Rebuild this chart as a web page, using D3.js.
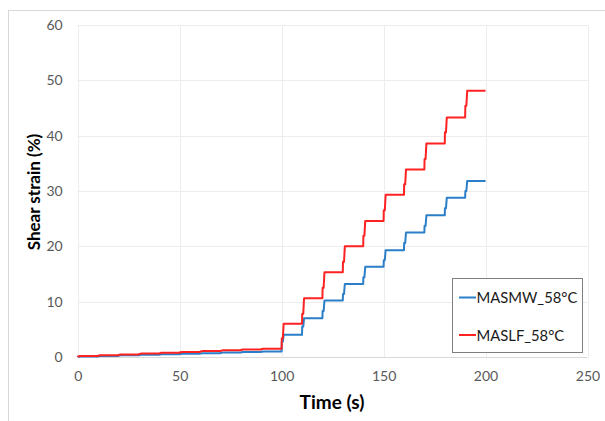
<!DOCTYPE html>
<html><head><meta charset="utf-8">
<script src="https://cdn.jsdelivr.net/npm/d3@7"></script>
<style>body{margin:0;background:#fff;}svg{display:block;font-family:Lato,"Open Sans",sans-serif;}</style>
</head><body>
<script>
// cycle start times (s)
const cycleStart = [0,10,20,30,40,50,60,70,80,90,100,110,120,130,140,150,160,170,180,190];
const endTime = 200;
// strain at end of each cycle (%)
const blueLevel = [0.10,0.20,0.30,0.40,0.50,0.60,0.70,0.80,0.90,1.00,4.0,7.0,10.2,13.2,16.3,19.3,22.5,25.6,28.8,31.8];
const blueMid   = [0.05,0.15,0.25,0.35,0.45,0.55,0.65,0.75,0.85,0.95,2.8,5.5,8.3,11.4,14.4,17.5,20.6,23.7,26.9,30.0];
const redLevel  = [0.17,0.32,0.47,0.62,0.77,0.92,1.07,1.21,1.36,1.50,6.0,10.6,15.3,20.0,24.6,29.3,33.9,38.6,43.3,48.1];
const redMid    = [0.09,0.25,0.40,0.55,0.70,0.85,1.00,1.14,1.29,1.43,3.4,7.8,12.5,17.2,21.9,26.5,31.2,35.8,40.6,45.4];
const seriesNames = ["MASMW_58°C","MASLF_58°C"];
const seriesColors = ["#2b7fc8","#ff2222"];
const xTicks = [0,50,100,150,200,250];
const yTicks = [0,10,20,30,40,50,60];

function buildPoints(level, mid){
  const pts = [[0,0]];
  let prev = 0;
  cycleStart.forEach((t0,i)=>{
    pts.push([t0, prev]);
    pts.push([t0+0.1, mid[i]]);
    pts.push([t0+0.6, mid[i]]);
    pts.push([t0+1, level[i]]);
    const tEnd = i < cycleStart.length-1 ? cycleStart[i+1] : endTime;
    pts.push([tEnd, level[i]]);
    prev = level[i];
  });
  return pts;
}

const W=605,H=421;
const svg=d3.select("body").append("svg").attr("width",W).attr("height",H);
svg.append("rect").attr("x",8.5).attr("y",10.5).attr("width",620).attr("height",430)
  .attr("fill","#fff").attr("stroke","#d9d9d9");

const x=d3.scaleLinear().domain([0,250]).range([77.7,587.5]);
const y=d3.scaleLinear().domain([0,60]).range([357,25]);

const g=svg.append("g");
// gridlines
g.selectAll(".hg").data(yTicks).join("line")
  .attr("x1",x(0)).attr("x2",x(250)).attr("y1",d=>Math.round(y(d))+0.5).attr("y2",d=>Math.round(y(d))+0.5)
  .attr("stroke",d=>d===0?"#d9d9d9":"#ececec").attr("stroke-width",1);
g.selectAll(".vg").data(xTicks).join("line")
  .attr("y1",y(0)).attr("y2",y(60)).attr("x1",d=>Math.round(x(d))+0.5).attr("x2",d=>Math.round(x(d))+0.5)
  .attr("stroke","#ececec").attr("stroke-width",1);

// axes labels via d3 axes
const xAxis=svg.append("g").attr("transform",`translate(0,${y(0)})`)
  .call(d3.axisBottom(x).tickValues(xTicks).tickSize(0).tickPadding(14));
const yAxis=svg.append("g").attr("transform",`translate(${x(0)},0)`)
  .call(d3.axisLeft(y).tickValues(yTicks).tickSize(0).tickPadding(15));
[xAxis,yAxis].forEach(a=>{
  a.select(".domain").remove();
  a.selectAll("text").attr("fill","#595959").style("font-size","14px").style("font-family","Lato, 'Open Sans', sans-serif");
});

// lines
const line=d3.line().x(d=>x(d[0])).y(d=>y(d[1]));
const data=[buildPoints(blueLevel,blueMid),buildPoints(redLevel,redMid)];
data.forEach((pts,i)=>{
  svg.append("path").datum(pts).attr("d",line).attr("fill","none")
    .attr("stroke",seriesColors[i]).attr("stroke-width",2).attr("stroke-linejoin","round");
});

// axis titles
svg.append("text").attr("x",332).attr("y",409).attr("text-anchor","middle")
  .style("font-size","19px").style("font-weight","bold").attr("fill","#000").text("Time (s)");
svg.append("text").attr("transform",`translate(40,192) rotate(-90)`).attr("text-anchor","middle")
  .style("font-size","17px").style("font-weight","bold").attr("fill","#000").text("Shear strain (%)");

// legend
const lg=svg.append("g");
lg.append("rect").attr("x",452.5).attr("y",278.5).attr("width",130).attr("height",74)
  .attr("fill","#fff").attr("stroke","#7f7f7f");
seriesNames.forEach((n,i)=>{
  const yy=[297.5,335][i];
  lg.append("line").attr("x1",459).attr("x2",476).attr("y1",yy).attr("y2",yy)
    .attr("stroke",seriesColors[i]).attr("stroke-width",2);
  lg.append("text").attr("x",476.5).attr("y",yy+5.5).style("font-size","14.8px").attr("fill","#1a1a1a").text(n);
});
</script>
</body></html>
